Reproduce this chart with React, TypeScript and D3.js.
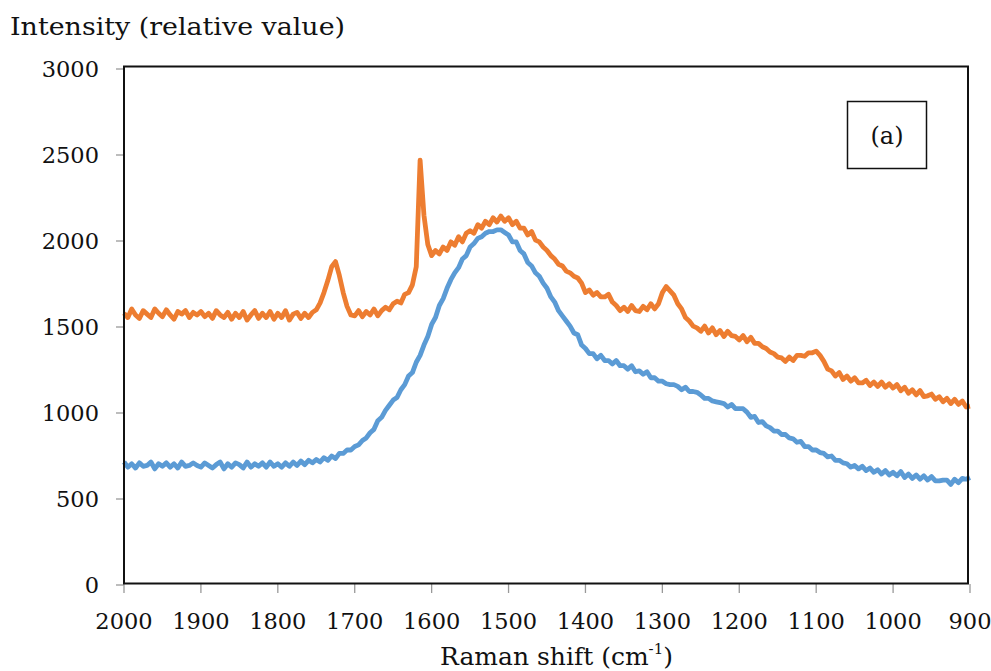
import React from "react";
import * as d3 from "d3";

const SHIFT_START = 2000;
const SHIFT_END = 900;
const SHIFT_STEP = 5;

// Orange spectrum, 2000 -> 900 cm-1, every 5 cm-1
const orangeValues = [
  1580, 1555, 1605, 1570, 1550, 1595, 1575, 1555, 1605, 1580,
  1560, 1600, 1570, 1545, 1590, 1575, 1595, 1555, 1585, 1570,
  1590, 1560, 1580, 1550, 1595, 1570, 1555, 1585, 1545, 1580,
  1555, 1590, 1540, 1570, 1595, 1550, 1580, 1555, 1590, 1545,
  1580, 1555, 1595, 1540, 1575, 1585, 1550, 1580, 1555, 1585,
  1600, 1640, 1700, 1770, 1850, 1880, 1800, 1700, 1620, 1570,
  1565, 1595, 1560, 1590, 1570, 1605, 1565, 1595, 1615, 1600,
  1635, 1650, 1640, 1690, 1700, 1745, 1850, 2470, 2150, 1980,
  1915, 1945, 1925, 1965, 1945, 1995, 1975, 2025, 1995, 2045,
  2060, 2045, 2095, 2075, 2115, 2095, 2135, 2110, 2145, 2115,
  2135, 2095, 2115, 2075, 2075, 2035, 2055, 2005, 1995, 1965,
  1945, 1915, 1895, 1865, 1855, 1825, 1815, 1795, 1785, 1755,
  1700, 1715, 1685, 1700, 1675, 1675, 1690, 1645, 1625, 1595,
  1615, 1590, 1625, 1595, 1590, 1620, 1600, 1635, 1605, 1635,
  1700, 1735, 1710, 1685, 1635, 1605, 1555, 1535, 1505, 1495,
  1475, 1505, 1465, 1495, 1455, 1480, 1445, 1475, 1450, 1445,
  1425, 1450, 1415, 1440, 1405, 1405, 1385, 1375, 1355, 1345,
  1325, 1320, 1300, 1325, 1305, 1335, 1335, 1330, 1350, 1350,
  1360, 1335, 1300, 1255, 1245, 1215, 1235, 1195, 1215, 1185,
  1205, 1175, 1175, 1190, 1160, 1180, 1155, 1180, 1150, 1170,
  1145, 1165, 1130, 1150, 1115, 1135, 1105, 1130, 1095, 1100,
  1110, 1080, 1095, 1065, 1085, 1055, 1080, 1050, 1070, 1035,
  1040,
];

// Blue spectrum, 2000 -> 900 cm-1, every 5 cm-1
const blueValues = [
  715, 685, 705, 680, 710, 690, 695, 715, 675, 705,
  690, 710, 685, 705, 680, 715, 690, 695, 710, 695,
  685, 710, 695, 680, 700, 715, 675, 705, 685, 710,
  700, 680, 715, 685, 705, 690, 710, 685, 715, 690,
  705, 685, 710, 690, 715, 695, 720, 700, 725, 710,
  730, 715, 740, 725, 750, 735, 765, 765, 785, 785,
  805, 815, 840, 855, 885, 905, 955, 975, 1015, 1045,
  1075, 1090, 1135, 1165, 1215, 1235, 1295, 1335, 1395, 1445,
  1515, 1555, 1625, 1665, 1725, 1775, 1815, 1845, 1895, 1915,
  1965, 1985, 2015, 2025, 2045, 2055, 2055, 2065, 2065, 2050,
  2035, 1995, 1995, 1945, 1925, 1875, 1855, 1815, 1795, 1755,
  1725, 1675, 1645, 1595, 1565, 1535, 1505, 1465, 1455, 1395,
  1375, 1345, 1345, 1315, 1335, 1305, 1305, 1285, 1305, 1275,
  1275, 1255, 1275, 1240, 1245, 1225, 1240, 1205, 1205, 1185,
  1185, 1170, 1165, 1165, 1155, 1135, 1150, 1125, 1125, 1120,
  1105, 1085, 1085, 1070, 1065, 1060, 1055, 1035, 1050, 1025,
  1025, 1025, 1005, 975, 980, 945, 950, 925, 915, 895,
  895, 875, 875, 855, 850, 830, 835, 805, 805, 785,
  785, 770, 765, 745, 750, 725, 725, 710, 705, 685,
  695, 675, 690, 665, 680, 655, 670, 645, 665, 640,
  655, 635, 660, 625, 645, 620, 640, 615, 635, 610,
  630, 605, 605, 610, 610, 585, 615, 595, 620, 615,
  625,
];

const xTicks = [2000, 1900, 1800, 1700, 1600, 1500, 1400, 1300, 1200, 1100, 1000, 900];
const yTicks = [0, 500, 1000, 1500, 2000, 2500, 3000];

const Y_TITLE = "Intensity (relative value)";
const X_TITLE = "Raman shift (cm";
const PANEL_LABEL = "(a)";

const ORANGE = "#ED7D31";
const BLUE = "#5B9BD5";
const FONT = "'DejaVu Serif', serif";

export default function App() {
  const W = 991;
  const H = 671;
  const x = d3.scaleLinear().domain([SHIFT_START, SHIFT_END]).range([124, 970]);
  const y = d3.scaleLinear().domain([0, 3000]).range([585, 69]);
  const shifts = orangeValues.map((_, i) => SHIFT_START - i * SHIFT_STEP);

  const line = d3
    .line<number>()
    .x((_, i) => x(shifts[i]))
    .y((d) => y(d));

  return (
    <div style={{ position: "absolute", left: 0, top: 0 }}>
      <svg width={W} height={H} style={{ display: "block", background: "#fff" }}>
        <text
          x={10}
          y={35}
          fontFamily={FONT}
          fontSize={25}
          fill="#111"
          textLength={335}
          lengthAdjust="spacingAndGlyphs"
        >
          {Y_TITLE}
        </text>
        {/* y ticks */}
        {yTicks.map((t) => (
          <g key={"y" + t}>
            <line x1={116} x2={124} y1={y(t)} y2={y(t)} stroke="#999" strokeWidth={1.3} />
            <text
              x={99}
              y={y(t) + 8}
              textAnchor="end"
              fontFamily={FONT}
              fontSize={22.5}
              fill="#111"
            >
              {t}
            </text>
          </g>
        ))}
        {/* x ticks */}
        {xTicks.map((t) => (
          <g key={"x" + t}>
            <line x1={x(t)} x2={x(t)} y1={584} y2={593} stroke="#999" strokeWidth={1.3} />
            <text
              x={x(t)}
              y={629}
              textAnchor="middle"
              fontFamily={FONT}
              fontSize={22.5}
              fill="#111"
            >
              {t}
            </text>
          </g>
        ))}
        <text x={440} y={665} fontFamily={FONT} fontSize={25} fill="#111">
          {X_TITLE}
          <tspan fontSize={15} dy={-11}>-1</tspan>
          <tspan dy={11}>)</tspan>
        </text>
        {/* series */}
        <path d={line(orangeValues) || ""} fill="none" stroke={ORANGE} strokeWidth={4.8} strokeLinejoin="round" />
        <path d={line(blueValues) || ""} fill="none" stroke={BLUE} strokeWidth={4.8} strokeLinejoin="round" />
        {/* frame */}
        <rect x={124} y={66.5} width={844} height={517} fill="none" stroke="#111" strokeWidth={2} />
        {/* panel label */}
        <rect x={847.5} y={101.5} width={79} height={67} fill="#fff" stroke="#111" strokeWidth={1.5} />
        <text x={887} y={144} textAnchor="middle" fontFamily={FONT} fontSize={24} fill="#111">
          {PANEL_LABEL}
        </text>
      </svg>
    </div>
  );
}
